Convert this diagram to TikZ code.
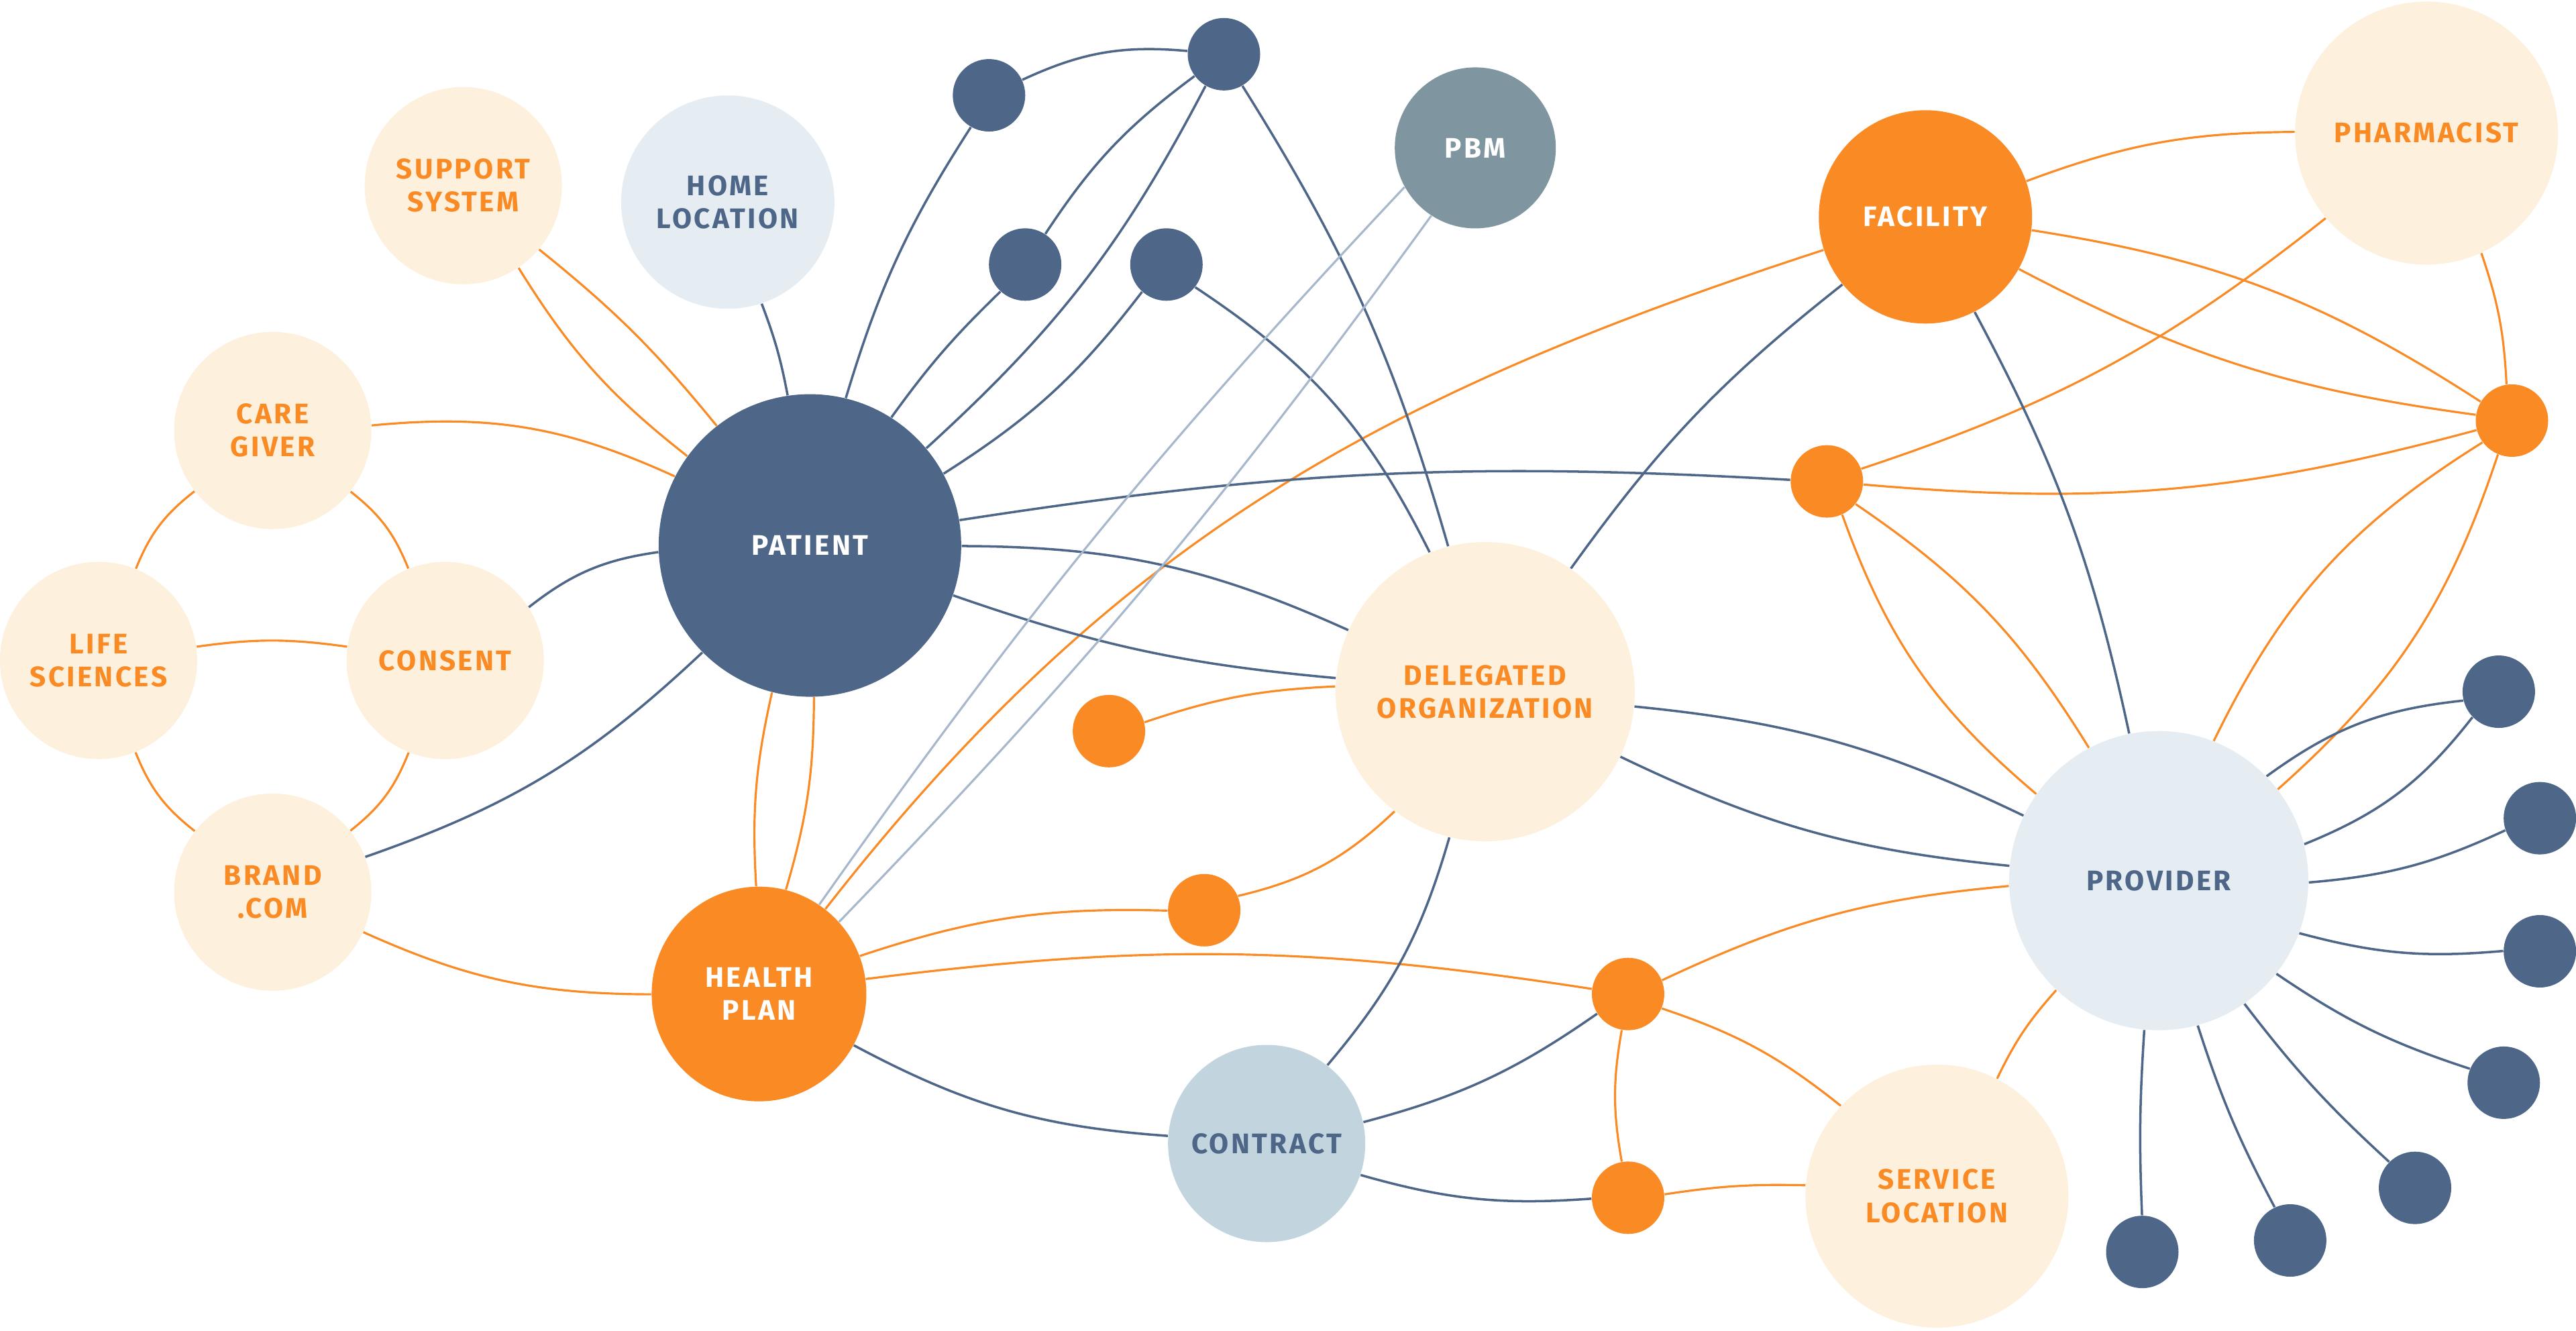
\documentclass[tikz,border=0pt]{standalone}
\usepackage{fontspec}
\newfontfamily\bubblefont{Fira Sans}[LetterSpace=8]
\usetikzlibrary{backgrounds}

\definecolor{navy}{HTML}{4E6688}
\definecolor{tangerine}{HTML}{F98A24}
\definecolor{cream}{HTML}{FDF0DC}
\definecolor{mist}{HTML}{E5EDF2}
\definecolor{sky}{HTML}{C2D5DF}
\definecolor{slate}{HTML}{7F959F}
\definecolor{haze}{HTML}{A7B8CC}

\tikzset{
  bubble/.style={circle, inner sep=0pt, align=center, minimum size=#1,
    font=\bubblefont\bfseries\fontsize{12}{14}\selectfont},
  creamy/.style={bubble=#1, fill=cream, text=tangerine},
  misty/.style={bubble=#1, fill=mist, text=navy},
  navyfill/.style={bubble=#1, fill=navy, text=white},
  orangefill/.style={bubble=#1, fill=tangerine, text=white},
  navydot/.style={circle, inner sep=0pt, minimum size=1.08cm, fill=navy},
  orangedot/.style={circle, inner sep=0pt, minimum size=1.08cm, fill=tangerine},
  navyline/.style={draw=navy, line width=1pt},
  orangeline/.style={draw=tangerine, line width=0.9pt},
  hazeline/.style={draw=haze, line width=0.9pt}
}

\begin{document}
\begin{tikzpicture}[x=0.02449cm, y=0.02449cm]
\useasboundingbox (0,0) rectangle (1568,-810);

\node[creamy=2.94cm] (support) at (282,-113) {SUPPORT\\SYSTEM};
\node[misty=3.18cm] (home) at (443,-123) {HOME\\LOCATION};
\node[creamy=2.94cm] (care) at (166,-262) {CARE\\GIVER};
\node[creamy=2.94cm] (life) at (60,-402) {LIFE\\SCIENCES};
\node[creamy=2.94cm] (consent) at (271,-402) {CONSENT};
\node[creamy=2.94cm] (brand) at (166,-543) {BRAND\\.COM};
\node[navyfill=4.51cm] (patient) at (493,-332) {PATIENT};
\node[orangefill=3.2cm] (health) at (462,-605) {HEALTH\\PLAN};
\node[bubble=2.4cm, fill=slate, text=white] (pbm) at (898,-90) {PBM};
\node[creamy=4.46cm] (deleg) at (904,-421) {DELEGATED\\ORGANIZATION};
\node[bubble=2.94cm, fill=sky, text=navy] (contract) at (771,-696) {CONTRACT};
\node[orangefill=3.18cm] (facility) at (1172,-132) {FACILITY};
\node[creamy=3.92cm] (pharm) at (1477,-81) {PHARMACIST};
\node[misty=4.46cm] (provider) at (1314,-536) {PROVIDER};
\node[creamy=3.92cm] (service) at (1179,-728) {SERVICE\\LOCATION};

\node[navydot] (pa) at (602,-58) {};
\node[navydot] (pb) at (745,-33) {};
\node[navydot] (pc) at (624,-161) {};
\node[navydot] (pd) at (710,-161) {};

\node[orangedot] (da) at (675,-445) {};
\node[orangedot] (db) at (733,-554) {};
\node[orangedot] (dc) at (991,-605) {};
\node[orangedot] (dd) at (991,-729) {};
\node[orangedot] (de) at (1112,-293) {};
\node[orangedot] (df) at (1529,-256) {};

\foreach \i/\x/\y in {1/1521/421, 2/1546/498, 3/1546/579, 4/1524/659, 5/1470/723, 6/1394/755, 7/1304/762}
  \node[navydot] (r\i) at (\x,-\y) {};

\begin{scope}[on background layer]
\draw[orangeline] (care) to[bend right=15] (life);
\draw[orangeline] (care) to[bend left=15] (consent);
\draw[orangeline] (life) to[bend left=8] (consent);
\draw[orangeline] (life) to[bend right=15] (brand);
\draw[orangeline] (consent) to[bend left=15] (brand);
\draw[orangeline] (care) to[bend left=15] (patient);
\draw[orangeline] (support) to[bend right=10] (patient);
\draw[orangeline] (support) to[bend left=6] (patient);
\draw[orangeline] (brand) to[bend right=12] (health);
\draw[orangeline] (patient) to[bend right=8] (health);
\draw[orangeline] (patient) to[bend left=8] (health);
\draw[orangeline] (health) to[out=52, in=198] (facility);
\draw[orangeline] (health) to[bend left=10] (db);
\draw[orangeline] (db) to[bend right=15] (deleg);
\draw[orangeline] (da) to[bend left=8] (deleg);
\draw[orangeline] (health) to[bend left=8] (dc);
\draw[orangeline] (dc) to[bend left=10] (provider);
\draw[orangeline] (dc) to[bend left=10] (service);
\draw[orangeline] (dc) to[bend right=10] (dd);
\draw[orangeline] (dd) to[bend left=5] (service);
\draw[orangeline] (service) to[bend left=8] (provider);
\draw[orangeline] (facility) to[bend left=10] (pharm);
\draw[orangeline] (facility) to[bend left=12] (df);
\draw[orangeline] (facility) to[bend right=10] (df);
\draw[orangeline] (pharm) to[bend left=8] (df);
\draw[orangeline] (pharm) to[bend left=10] (de);
\draw[orangeline] (de) to[bend right=10] (df);
\draw[orangeline] (de) to[bend right=15] (provider);
\draw[orangeline] (de) to[bend left=12] (provider);
\draw[orangeline] (df) to[bend right=16] (provider);
\draw[orangeline] (df) to[bend left=15] (provider);

\draw[navyline] (home) to[bend left=5] (patient);
\draw[navyline] (consent) to[bend left=15] (patient);
\draw[navyline] (brand) to[bend right=12] (patient);
\draw[navyline] (patient) to[bend left=8] (pa);
\draw[navyline] (pa) to[bend left=15] (pb);
\draw[navyline] (patient) to[bend left=5] (pc);
\draw[navyline] (pc) to[bend left=10] (pb);
\draw[navyline] (patient) to[bend right=10] (pb);
\draw[navyline] (patient) to[bend right=10] (pd);
\draw[navyline] (pd) to[bend left=15] (deleg);
\draw[navyline] (pb) to[bend left=8] (deleg);
\draw[navyline] (patient) to[bend left=6] (de);
\draw[navyline] (patient) to[bend left=12] (deleg);
\draw[navyline] (patient) to[bend right=7] (deleg);
\draw[navyline] (deleg) to[bend left=8] (facility);
\draw[navyline] (deleg) to[bend left=10] (provider);
\draw[navyline] (deleg) to[bend right=10] (provider);
\draw[navyline] (deleg) to[bend left=12] (contract);
\draw[navyline] (health) to[bend right=12] (contract);
\draw[navyline] (contract) to[bend right=10] (dc);
\draw[navyline] (contract) to[bend right=10] (dd);
\draw[navyline] (facility) to[bend left=8] (provider);
\draw[navyline] (provider) to[bend left=15] (r1);
\draw[navyline] (provider) to[bend right=15] (r1);
\foreach \i/\b in {2/10, 3/10, 4/8, 5/5, 6/5, 7/3}
  \draw[navyline] (provider) to[bend right=\b] (r\i);

\draw[hazeline] (pbm.209) to[bend right=4] (health.56);
\draw[hazeline] (pbm.237) to[bend left=4] (health.42);
\end{scope}
\end{tikzpicture}
\end{document}
